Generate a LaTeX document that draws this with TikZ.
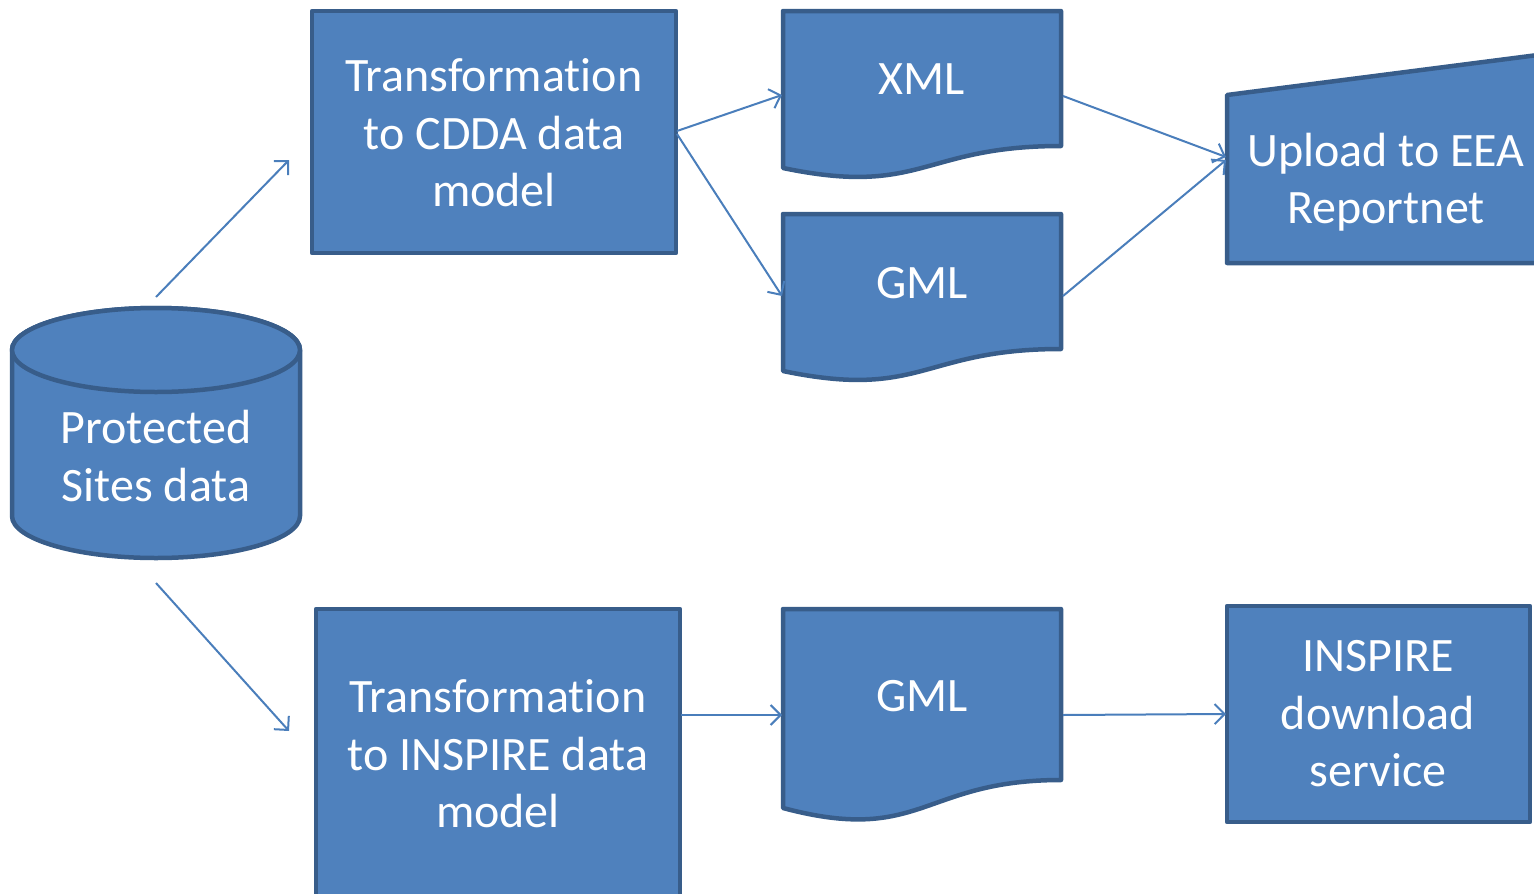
\documentclass[tikz,border=0pt]{standalone}
\usepackage{fontspec}
\setmainfont{Carlito}[RawFeature=-liga]
\usetikzlibrary{arrows.meta}
\definecolor{fillblue}{HTML}{4F81BD}
\definecolor{edgeblue}{HTML}{385D8A}
\definecolor{linkblue}{HTML}{4A7EBB}
\begin{document}
\begin{tikzpicture}[x=1pt,y=-1pt,
  shapebox/.style={fill=fillblue,draw=edgeblue,line width=4.5pt,line join=round},
  label/.style={text=white,align=center,font=\fontsize{48}{57.5}\selectfont,inner sep=0pt},
  link/.style={draw=linkblue,line width=2pt,-{Straight Barb[length=10pt,width=20pt,line width=2pt]}}]
\useasboundingbox (0,0) rectangle (1534,894);
% cylinder
\path[shapebox] (12,350) -- (12,516) arc[start angle=180,end angle=0,x radius=144,y radius=42] -- (300,350) arc[start angle=0,end angle=-180,x radius=144,y radius=42] -- cycle;
\path[shapebox] (156,350) ellipse[x radius=144,y radius=42];
\node[label] (db) at (156,456) {Protected\\Sites data};
% CDDA transformation
\path[shapebox] (312,11) rectangle (676,253);
\node[label] (cdda) at (494,133) {Transformation\\to CDDA data\\model};
% XML document
\path[shapebox] (783,11) -- (1061,11) -- (1061,146) .. controls (922,146) and (922,197) .. (783,168) -- cycle;
\node[label] (xml) at (922,79) {XML};
% GML document 1
\path[shapebox] (783,214) -- (1061,214) -- (1061,349) .. controls (922,349) and (922,400) .. (783,371) -- cycle;
\node[label] (gmla) at (922,283) {GML};
% Upload manual input
\path[shapebox] (1227,95) -- (1600,47) -- (1600,263) -- (1227,263) -- cycle;
\node[label] (upload) at (1386,182) {Upload to EEA\\Reportnet};
% INSPIRE transformation
\path[shapebox] (316,609) rectangle (680,960);
\node[label] (insp) at (498,754) {Transformation\\to INSPIRE data\\model};
% GML document 2
\path[shapebox] (783,609) -- (1061,609) -- (1061,780) .. controls (922,780) and (922,845) .. (783,808) -- cycle;
\node[label] (gmlb) at (922,696) {GML};
% INSPIRE download
\path[shapebox] (1227,606) rectangle (1530,822);
\node[label] (dl) at (1378,714) {INSPIRE\\download\\service};
% connector endpoints
\coordinate (dbtop) at (156,297);
\coordinate (dbbot) at (156,583);
\coordinate (cddain) at (289,160);
\coordinate (inspin) at (289,731);
\coordinate (cddaout1) at (677,131);
\coordinate (cddaout2) at (677,134);
\coordinate (xmlin) at (782,95);
\coordinate (gmlain) at (782,296);
\coordinate (xmlout) at (1063,96);
\coordinate (gmlaout) at (1063,296);
\coordinate (upin1) at (1226,157);
\coordinate (upin2) at (1226,160);
\coordinate (inspout) at (681,715);
\coordinate (gmlbin) at (782,715);
\coordinate (gmlbout) at (1063,715);
\coordinate (dlin) at (1226,714);
\draw[link] (dbtop) -- (cddain);
\draw[link] (dbbot) -- (inspin);
\draw[link] (cddaout1) -- (xmlin);
\draw[link] (cddaout2) -- (gmlain);
\draw[link] (xmlout) -- (upin1);
\draw[link] (gmlaout) -- (upin2);
\draw[link] (inspout) -- (gmlbin);
\draw[link] (gmlbout) -- (dlin);
\end{tikzpicture}
\end{document}
